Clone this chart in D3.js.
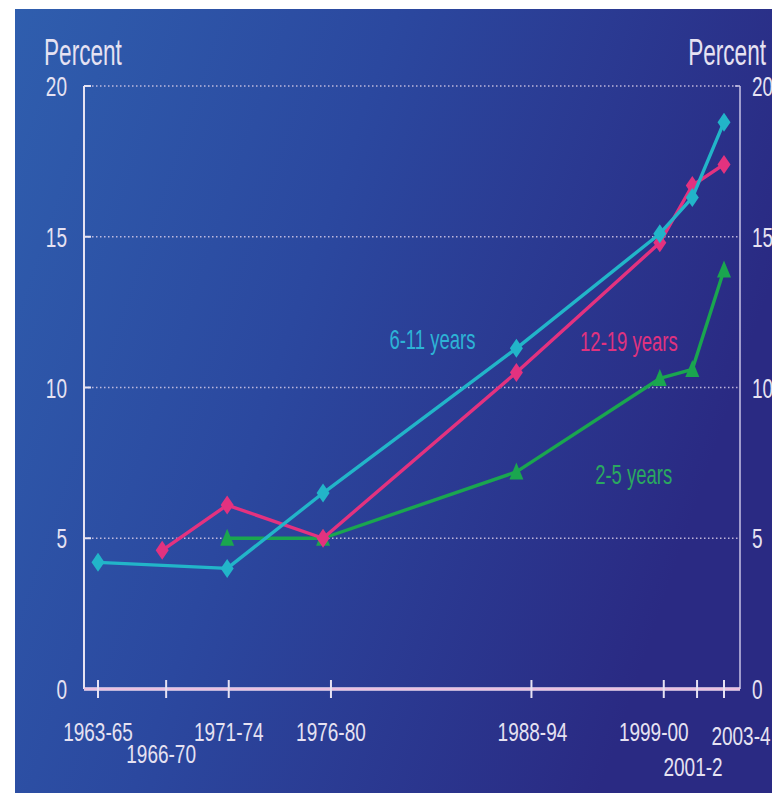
<!DOCTYPE html>
<html><head><meta charset="utf-8">
<script src="https://cdn.jsdelivr.net/npm/d3@7/dist/d3.min.js"></script>
<style>html,body{margin:0;padding:0;background:#fff;}svg{display:block;}</style>
</head><body>
<script>
// ---- data ----
const periods = ["1963-65","1966-70","1971-74","1976-80","1988-94","1999-00","2001-2","2003-4"];
const periodMid = [1964, 1968.05, 1972.15, 1978.2, 1990.4, 1999.45, 2001.5, 2003.5];
const tickPos   = [1964, 1968.3, 1972.25, 1978.7, 1991.35, 1999.7, 2001.8, 2003.5];
const age6to11  = [4.2, null, 4.0, 6.5, 11.3, 15.1, 16.3, 18.8];
const age12to19 = [null, 4.6, 6.1, 5.0, 10.5, 14.8, 16.7, 17.4];
const age2to5   = [null, null, 5.0, 5.0, 7.2, 10.3, 10.6, 13.9];
const yTicks = [0, 5, 10, 15, 20];
const seriesNames = ["6-11 years", "12-19 years", "2-5 years"];

// ---- layout / style ----
const W = 772, H = 796;
const plot = {left: 84, right: 740, top: 86, bottom: 689};
const colors = {"6-11 years": "#22b5c9", "12-19 years": "#e3327f", "2-5 years": "#1aa64f"};
const labelColors = {"6-11 years": "#2db3d6", "12-19 years": "#e0327f", "2-5 years": "#2aa860"};
const shapes = {"6-11 years": "diamond", "12-19 years": "diamond", "2-5 years": "triangle"};
const txtCol = "#e6e2f2";
const FONT = "'Liberation Sans', Arial, sans-serif";
// tick label offsets (px) [dx, baseline y]
const tickLabelOff = [[0,741],[-5,763],[0,741],[0,741],[1,741],[-10,741],[-4,776],[17,745]];
// series label anchor in data units
const seriesLabelPos = {"6-11 years": [1985.1, 11.28], "12-19 years": [1997.5, 11.2], "2-5 years": [1997.8, 6.8]};

const svg = d3.select("body").append("svg").attr("width", W).attr("height", H);
const defs = svg.append("defs");
const grad = defs.append("linearGradient").attr("id","bg").attr("x1","0").attr("y1","0").attr("x2","1").attr("y2","0.35");
grad.append("stop").attr("offset","0").attr("stop-color","#2f5eae");
grad.append("stop").attr("offset","0.45").attr("stop-color","#2b489f");
grad.append("stop").attr("offset","1").attr("stop-color","#2a2a83");
svg.append("rect").attr("x",15).attr("y",9).attr("width",W-15).attr("height",784).attr("fill","url(#bg)");

const x = d3.scaleLinear().domain([1964, 2003.5]).range([98, 724]);
const y = d3.scaleLinear().domain([0, 20]).range([plot.bottom, plot.top]);

function stext(g, str, px, py, size, sy, anchor, fill) {
  return g.append("text").attr("transform", `translate(${px},${py}) scale(1,${sy})`)
    .attr("font-family", FONT).attr("font-size", size).attr("text-anchor", anchor)
    .attr("fill", fill).text(str);
}

// gridlines
svg.append("g").selectAll("line").data(yTicks.filter(d => d > 0)).join("line")
  .attr("x1", plot.left).attr("x2", plot.right)
  .attr("y1", d => y(d)).attr("y2", d => y(d))
  .attr("stroke", "#d9cde9").attr("stroke-width", 1.5).attr("stroke-dasharray", "1.5,2.5").attr("opacity", 0.85);

// left axis
const ax = svg.append("g");
ax.append("line").attr("x1", plot.left).attr("x2", plot.left).attr("y1", y(20)).attr("y2", y(0))
  .attr("stroke", txtCol).attr("stroke-width", 2);
ax.selectAll(".lt").data(yTicks.filter(d => d > 0)).join("line")
  .attr("x1", plot.left).attr("x2", plot.left + 7).attr("y1", d => y(d)).attr("y2", d => y(d))
  .attr("stroke", txtCol).attr("stroke-width", 2);
// right axis
ax.append("line").attr("x1", plot.right).attr("x2", plot.right).attr("y1", y(20)).attr("y2", y(0))
  .attr("stroke", "#c9c3e6").attr("stroke-width", 1.5);
ax.append("line").attr("x1", plot.right - 5).attr("x2", plot.right).attr("y1", y(20)).attr("y2", y(20))
  .attr("stroke", "#c9c3e6").attr("stroke-width", 1.5);
// x axis
ax.append("line").attr("x1", plot.left).attr("x2", plot.right).attr("y1", y(0)).attr("y2", y(0))
  .attr("stroke", "#eed8ee").attr("stroke-width", 3.5);
ax.append("line").attr("x1", plot.left).attr("x2", plot.right).attr("y1", y(0)).attr("y2", y(0))
  .attr("stroke", "#e9a8d4").attr("stroke-width", 1);
ax.selectAll(".xt").data(tickPos).join("line")
  .attr("x1", d => x(d)).attr("x2", d => x(d)).attr("y1", y(0) - 9).attr("y2", y(0) + 9)
  .attr("stroke", txtCol).attr("stroke-width", 2);

// y tick labels
yTicks.forEach(t => {
  stext(svg, t, 67, y(t) + 10, 19, 1.42, "end", txtCol);
  stext(svg, t, 752, y(t) + 10, 19, 1.42, "start", txtCol);
});
// axis titles
stext(svg, "Percent", 44, 65, 22.6, 1.62, "start", txtCol);
stext(svg, "Percent", 766, 65, 22.6, 1.62, "end", txtCol);

// x tick labels
periods.forEach((p, i) => {
  stext(svg, p, x(tickPos[i]) + tickLabelOff[i][0], tickLabelOff[i][1], 19, 1.4, "middle", txtCol);
});

// series
const seriesVals = [age6to11, age12to19, age2to5];
const line = d3.line().defined(d => d.v != null).x(d => x(d.t)).y(d => y(d.v));
const order = [2, 1, 0];
order.forEach(si => {
  const name = seriesNames[si];
  const pts = seriesVals[si].map((v, i) => ({t: periodMid[i], v})).filter(d => d.v != null);
  const g = svg.append("g");
  g.append("path").datum(pts).attr("d", line).attr("fill", "none")
    .attr("stroke", colors[name]).attr("stroke-width", 3.4).attr("stroke-linejoin", "round");
  const sym = shapes[name] === "diamond"
    ? "M0,-9.5 L6.5,0 L0,9.5 L-6.5,0 Z"
    : "M0,-9.5 L7,7.5 L-7,7.5 Z";
  g.selectAll("path.m").data(pts).join("path").attr("class", "m")
    .attr("d", sym).attr("transform", d => `translate(${x(d.t)},${y(d.v)})`)
    .attr("fill", colors[name]);
});

// series labels
seriesNames.forEach(n => {
  const [lt, lv] = seriesLabelPos[n];
  stext(svg, n, x(lt), y(lv), 18.5, 1.45, "middle", labelColors[n]);
});
</script>
</body></html>
